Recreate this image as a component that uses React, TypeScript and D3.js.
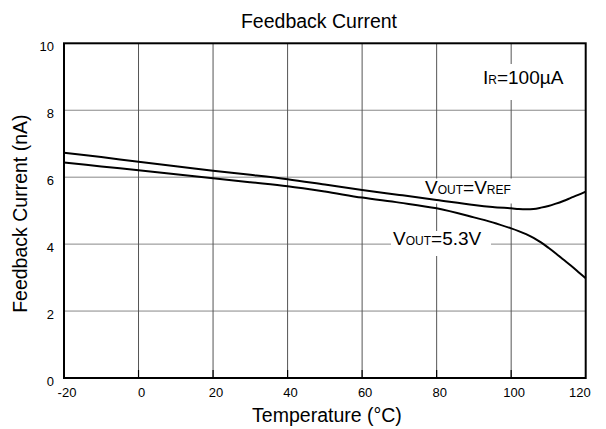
import React from "react";
import * as d3 from "d3";

const tempVref = [-20, -10, 0, 10, 20, 30, 40, 50, 60, 70, 80, 90, 95, 100, 102, 104, 106, 108, 110, 112, 114, 116, 118, 120];
const currentVref = [6.73, 6.6, 6.46, 6.33, 6.19, 6.07, 5.94, 5.78, 5.62, 5.47, 5.32, 5.17, 5.11, 5.07, 5.05, 5.04, 5.05, 5.09, 5.14, 5.21, 5.29, 5.38, 5.47, 5.57];

const temp53 = [-20, -10, 0, 10, 20, 30, 40, 50, 60, 70, 80, 90, 95, 100, 102, 104, 106, 108, 110, 112, 114, 116, 118, 120];
const current53 = [6.44, 6.32, 6.21, 6.09, 5.97, 5.85, 5.73, 5.57, 5.39, 5.24, 5.07, 4.8, 4.65, 4.47, 4.39, 4.3, 4.19, 4.05, 3.89, 3.72, 3.54, 3.36, 3.17, 2.98];

const xTicks = [-20, 0, 20, 40, 60, 80, 100, 120];
const yTicks = [0, 2, 4, 6, 8, 10];

const W = 606;
const H = 429;
const L = 64, R = 585.7, T = 43.3, B = 378;
const FONT = "'Liberation Sans', Arial, Helvetica, sans-serif";

export default function App() {
  const x = d3.scaleLinear().domain([-20, 120]).range([L, R]);
  const y = d3.scaleLinear().domain([0, 10]).range([B, T]);
  const line = d3
    .line<[number, number]>()
    .x((d) => x(d[0]))
    .y((d) => y(d[1]))
    .curve(d3.curveCatmullRom.alpha(0.5));
  const dVref = line(tempVref.map((t, i) => [t, currentVref[i]]) as [number, number][]) || "";
  const d53 = line(temp53.map((t, i) => [t, current53[i]]) as [number, number][]) || "";

  return (
    <svg width={W} height={H} style={{ position: "absolute", left: 0, top: 0, background: "#fff" }} fontFamily={FONT}>
      <rect x={0} y={0} width={W} height={H} fill="#fff" />
      {/* grid */}
      {yTicks.slice(1, -1).map((v) => (
        <line key={"h" + v} x1={L} x2={R} y1={y(v)} y2={y(v)} stroke="#888" strokeWidth={1} />
      ))}
      {xTicks.slice(1, -1).map((v) => (
        <g key={"v" + v}>
          <line x1={x(v)} x2={x(v)} y1={T} y2={B} stroke="#555" strokeWidth={1} />
          <line x1={x(v)} x2={x(v)} y1={B - 8} y2={B} stroke="#000" strokeWidth={1.2} />
        </g>
      ))}
      {/* label boxes */}
      <rect x={476} y={64} width={98} height={36} fill="#fff" />
      <rect x={421} y={178.5} width={94} height={25} fill="#fff" />
      <rect x={391} y={231} width={100} height={25} fill="#fff" />
      {/* curves */}
      <path d={dVref} fill="none" stroke="#000" strokeWidth={2} />
      <path d={d53} fill="none" stroke="#000" strokeWidth={2} />
      {/* frame */}
      <rect x={L} y={T} width={R - L} height={B - T} fill="none" stroke="#000" strokeWidth={2} />
      {/* tick labels */}
      {xTicks.map((v, i) => (
        <text
          key={"xt" + v}
          x={x(v) + (i === xTicks.length - 1 ? 5 : 3)}
          y={397}
          fontSize={13}
          textAnchor={i === xTicks.length - 1 ? "end" : "middle"}
          fill="#000"
        >
          {v}
        </text>
      ))}
      {yTicks.map((v) => (
        <text key={"yt" + v} x={54} y={y(v) + 7.5} fontSize={13} textAnchor="end" fill="#000">
          {v}
        </text>
      ))}
      {/* titles */}
      <text x={319} y={28} fontSize={19.5} textAnchor="middle" fill="#000">Feedback Current</text>
      <text x={327} y={422} fontSize={19.5} textAnchor="middle" fill="#000">Temperature (°C)</text>
      <text transform={`translate(27, ${(T + B) / 2 + 3}) rotate(-90)`} fontSize={19.5} textAnchor="middle" fill="#000">
        Feedback Current (nA)
      </text>
      {/* annotations */}
      <text x={483} y={84} fontSize={19} fill="#000">
        I<tspan fontSize={12}>R</tspan>=100µA
      </text>
      <text x={425} y={194} fontSize={19} fill="#000">
        V<tspan fontSize={12}>OUT</tspan>=V<tspan fontSize={12}>REF</tspan>
      </text>
      <text x={393} y={245} fontSize={19} fill="#000">
        V<tspan fontSize={12}>OUT</tspan>=5.3V
      </text>
    </svg>
  );
}
